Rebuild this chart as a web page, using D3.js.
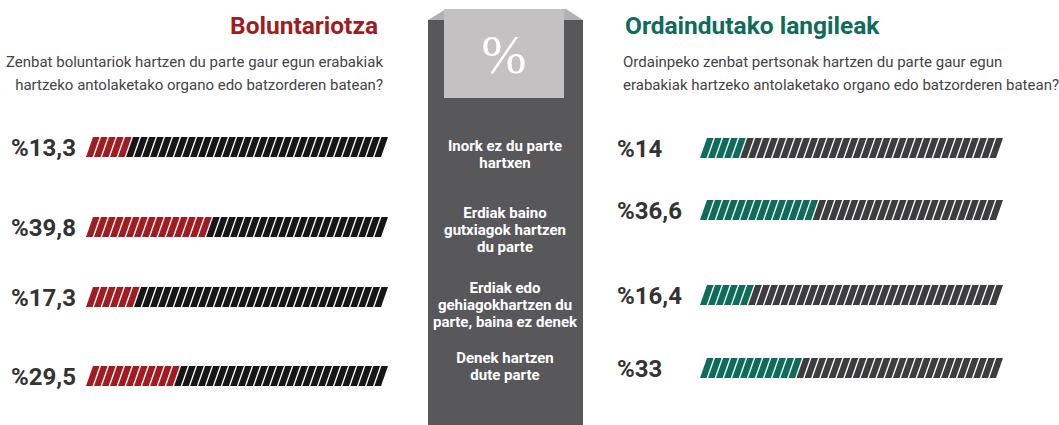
<!DOCTYPE html>
<html>
<head>
<meta charset="utf-8">
<script src="https://cdn.jsdelivr.net/npm/d3@7"></script>
<style>
  body { margin: 0; background: #fff; }
  svg { display: block; font-family: Roboto, "Open Sans", sans-serif; }
</style>
</head>
<body>
<svg id="chart" width="1059" height="425"></svg>
<script>
// categories shown in the middle column (line breaks as in the original)
const categories = [
  ["Inork ez du parte", "hartxen"],
  ["Erdiak baino", "gutxiagok hartzen", "du parte"],
  ["Erdiak edo", "gehiagokhartzen du", "parte, baina ez denek"],
  ["Denek hartzen", "dute parte"]
];
const boluntariotza = [13.3, 39.8, 17.3, 29.5];
const langileak = [14, 36.6, 16.4, 33];

const leftTitle = "Boluntariotza";
const leftQuestion = ["Zenbat boluntariok hartzen du parte gaur egun erabakiak",
  "hartzeko antolaketako organo edo batzorderen batean?"];
const rightTitle = "Ordaindutako langileak";
const rightQuestion = ["Ordainpeko zenbat pertsonak hartzen du parte gaur egun",
  "erabakiak hartzeko antolaketako organo edo batzorderen batean?"];

const STRIPES = 37;
const SKEW = 7, BAR_H = 20;

const svg = d3.select("#chart");
const idx = d3.range(categories.length);

const fmt = d3.formatLocale({ decimal: ",", thousands: ".", grouping: [3], currency: ["", ""] })
  .format(".3~g");

// ---- middle column
const mid = svg.append("g");
mid.append("rect")
  .attr("x", 428).attr("y", 20).attr("width", 155).attr("height", 405)
  .attr("fill", "#58585a");
mid.append("path")
  .attr("d", "M428,20 L446,9 L566,9 L583,20 Z")
  .attr("fill", "#b3b1b2");
mid.append("rect")
  .attr("x", 444).attr("y", 9).attr("width", 120).attr("height", 89)
  .attr("fill", "#c3c1c2");
mid.append("text")
  .attr("x", 504).attr("y", 73)
  .attr("text-anchor", "middle")
  .attr("font-family", "'Liberation Serif', 'DejaVu Serif', serif")
  .attr("font-size", 54)
  .attr("fill", "#fff")
  .text("%");

const midY = d3.scaleOrdinal().domain(idx).range([154, 230, 305, 366]);
mid.selectAll("text.cat")
  .data(idx)
  .join("text")
    .attr("class", "cat")
    .attr("text-anchor", "middle")
    .attr("fill", "#fff")
    .attr("font-weight", "bold")
    .attr("font-size", 15)
    .each(function(i) {
      const lines = categories[i];
      const y0 = midY(i) - (lines.length - 1) * 17 / 2;
      d3.select(this).selectAll("tspan")
        .data(lines)
        .join("tspan")
          .attr("x", 505)
          .attr("y", (d, j) => y0 + j * 17)
          .attr("dy", "0.35em")
          .text(d => d);
    });

// ---- one side panel
function drawSide(opts) {
  const g = svg.append("g");

  g.append("text")
    .attr("x", opts.titleX).attr("y", 34)
    .attr("text-anchor", opts.anchor)
    .attr("font-size", 24.5).attr("font-weight", "bold")
    .attr("fill", opts.color)
    .text(opts.title);

  g.selectAll("text.q")
    .data(opts.question)
    .join("text")
      .attr("class", "q")
      .attr("x", opts.qX)
      .attr("y", (d, i) => 62 + i * 23)
      .attr("dy", "0.35em")
      .attr("text-anchor", opts.anchor)
      .attr("font-size", 15)
      .attr("fill", "#444")
      .text(d => d);

  const y = d3.scaleOrdinal().domain(idx).range(opts.rows);
  const x = d3.scaleBand().domain(d3.range(STRIPES)).range(opts.barRange).paddingInner(0.18);
  const bw = x.bandwidth();

  g.selectAll("text.val")
    .data(opts.values)
    .join("text")
      .attr("class", "val")
      .attr("x", opts.labelX)
      .attr("y", (d, i) => y(i))
      .attr("dy", "0.36em")
      .attr("font-size", 24).attr("font-weight", "bold")
      .attr("fill", "#333")
      .text(d => "%" + fmt(d));

  const rows = g.selectAll("g.bar")
    .data(opts.values)
    .join("g")
      .attr("class", "bar")
      .attr("transform", (d, i) => `translate(0,${y(i)})`);

  rows.selectAll("path")
    .data(v => d3.range(STRIPES).map(k => ({ k, on: k < Math.round(v / 100 * STRIPES) })))
    .join("path")
      .attr("d", d => {
        const x0 = x(d.k), yb = BAR_H / 2, yt = -BAR_H / 2;
        return `M${x0},${yb}L${x0 + bw},${yb}L${x0 + bw + SKEW},${yt}L${x0 + SKEW},${yt}Z`;
      })
      .attr("fill", d => d.on ? opts.color : opts.rest);
}

drawSide({
  title: leftTitle, question: leftQuestion, values: boluntariotza,
  color: "#a11c21", rest: "#161616",
  anchor: "end", titleX: 378, qX: 383,
  labelX: 11, rows: [147, 227, 297, 376], barRange: [86, 381]
});

drawSide({
  title: rightTitle, question: rightQuestion, values: langileak,
  color: "#0f6b5a", rest: "#3d3d40",
  anchor: "start", titleX: 625, qX: 623,
  labelX: 617, rows: [148, 210, 295, 368], barRange: [700, 996]
});
</script>
</body>
</html>
